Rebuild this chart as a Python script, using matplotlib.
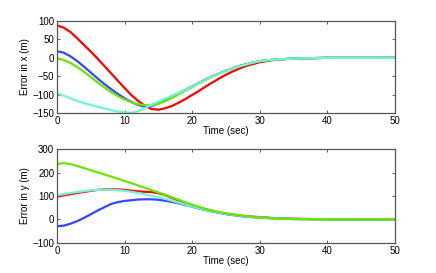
import numpy as np
import matplotlib
matplotlib.use("Agg")
import matplotlib.pyplot as plt

plt.rcParams['font.family'] = ['Liberation Sans', 'DejaVu Sans']

# shared time grid (sec)
t = [0, 1, 2, 3, 4, 5, 6, 7, 8, 9, 10, 11, 12, 13, 14, 15, 16, 17, 18, 19, 20,
     21, 22, 23, 24, 25, 26, 27, 28, 29, 30, 32, 35, 40, 45, 50]

# error in x (m)
x_red = [88, 82, 70, 53, 35, 17, -2, -22, -42, -62, -82, -101, -117, -130, -139, -141,
         -137, -131, -122, -112, -101, -90, -78, -67, -56, -46, -37, -29, -22, -17, -12,
         -6, -2, 0, 0, 0]
x_blue = [18, 14, 4, -9, -24, -40, -56, -71, -85, -98, -110, -120, -128, -133, -131, -124,
          -115, -105, -96, -87, -78, -68, -59, -50, -43, -35, -29, -22, -17, -13, -9,
          -5, -2, 0, 0, 0]
x_green = [-1, -6, -14, -25, -38, -52, -67, -80, -93, -104, -113, -121, -126, -129, -129, -125,
           -118, -109, -99, -89, -80, -70, -60, -51, -43, -36, -29, -23, -18, -13, -9,
           -5, -2, 0, 0, 0]
x_cyan = [-97, -103, -110, -117, -123, -128, -133, -137, -142, -146, -148, -149, -145, -137, -127, -119,
          -111, -103, -95, -87, -79, -69, -60, -51, -44, -36, -30, -23, -18, -13, -9,
          -5, -2, 0, 0, 0]

# error in y (m)
y_red = [97, 103, 108, 113, 118, 122, 126, 128, 129, 128, 126, 123, 120, 118, 117, 112,
         104, 92, 81, 70, 60, 51, 43, 36, 30, 25, 21, 17, 14, 12, 10, 6, 3, 1, 0, 0]
y_blue = [-29, -26, -18, -7, 7, 22, 38, 52, 66, 74, 79, 82, 85, 86, 86, 84,
          80, 75, 69, 62, 55, 47, 40, 34, 28, 23, 19, 15, 12, 10, 8, 5, 2, 0.5, 0, 0]
y_green = [236, 240, 236, 228, 219, 210, 201, 192, 183, 174, 164, 155, 145, 135, 125, 115,
           105, 95, 84, 73, 63, 54, 45, 38, 32, 27, 22, 18, 14, 11, 9, 5, 2, 0.5, 0, 0]
y_cyan = [103, 108, 113, 117, 121, 124, 126, 127, 127, 125, 122, 118, 113, 107, 101, 95,
          88, 80, 72, 64, 56, 48, 41, 35, 29, 24, 20, 16, 13, 10, 8, 5, 2, 0.5, 0, 0]

c_red = '#ff0000'
c_blue = '#3447ff'
c_green = '#66e600'
c_cyan = '#6ff5d6'

fig = plt.figure(figsize=(4.36, 2.73), dpi=100)
ax1 = fig.add_axes([0.1307, 0.586, 0.775, 0.337])
ax2 = fig.add_axes([0.1307, 0.110, 0.775, 0.344])

lw = 1.6
ax1.plot(t, x_red, color=c_red, lw=lw)
ax1.plot(t, x_blue, color=c_blue, lw=lw)
ax1.plot(t, x_green, color=c_green, lw=lw)
ax1.plot(t, x_cyan, color=c_cyan, lw=lw)

ax2.plot(t, y_red, color=c_red, lw=lw)
ax2.plot(t, y_blue, color=c_blue, lw=lw)
ax2.plot(t, y_cyan, color=c_cyan, lw=lw)
ax2.plot(t, y_green, color=c_green, lw=lw)

fs = 7
for ax, yl, ylim, yt in [(ax1, 'Error in x (m)', (-150, 100), [-150, -100, -50, 0, 50, 100]),
                         (ax2, 'Error in y (m)', (-100, 300), [-100, 0, 100, 200, 300])]:
    ax.set_xlim(0, 50)
    ax.set_ylim(*ylim)
    ax.set_xticks([0, 10, 20, 30, 40, 50])
    ax.set_yticks(yt)
    ax.tick_params(direction='in', length=2.5, width=0.6, top=True, right=True,
                   labelsize=fs, pad=2, color='#444444')
    for s in ax.spines.values():
        s.set_color('#555555')
        s.set_linewidth(0.9)
    ax.set_xlabel('Time (sec)', fontsize=fs, labelpad=0)
    ax.set_ylabel(yl, fontsize=fs, labelpad=2)

fig.savefig('out.png', dpi=100)
